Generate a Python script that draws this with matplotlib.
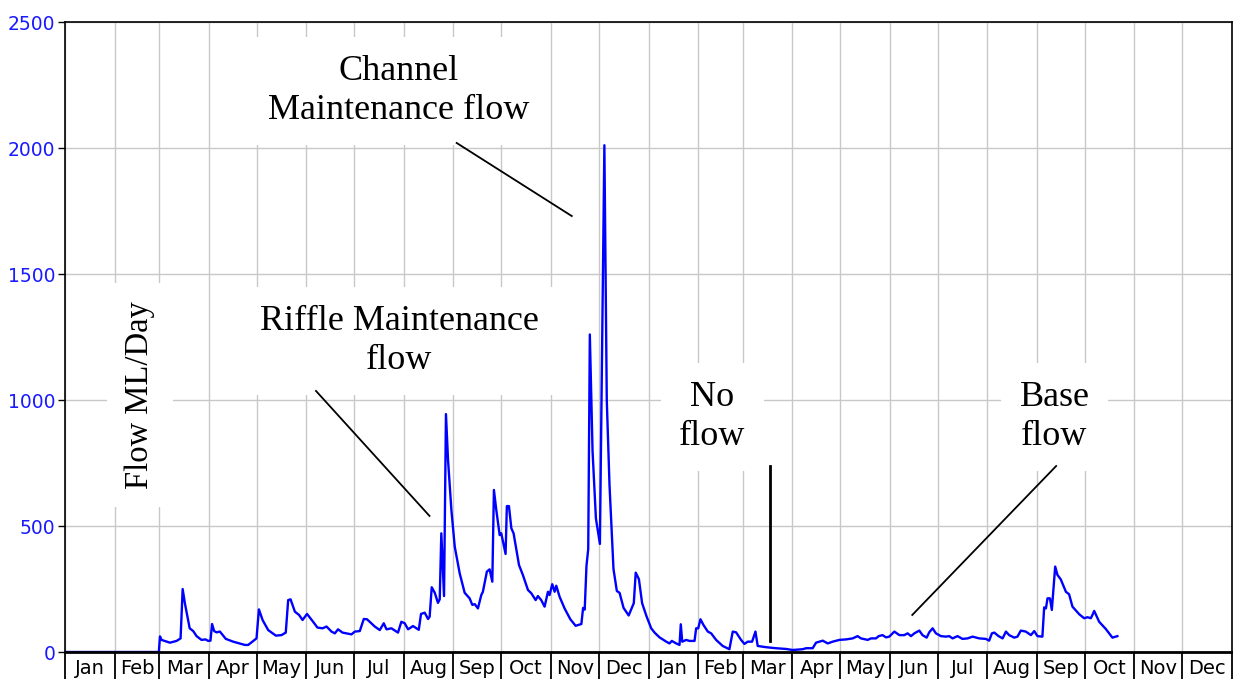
import matplotlib
matplotlib.use("Agg")
import matplotlib.pyplot as plt
import numpy as np

# flow record: day since 1 Jan of year 1 -> flow (ML/day)
days = [0, 58.7, 59.4, 60.4, 65.6, 69.8, 72.3, 73.6, 75, 78, 80.2, 82.3, 85.4, 87.9, 89.6, 91, 92,
        93.3, 94.8, 96.9, 100.6, 105.2, 112.5, 114.6, 119.8, 121.3, 123.6, 127.1, 131.9, 135.4,
        138.1, 139.6, 141.1, 143.8, 146.4, 148.6, 151.4, 155.2, 157.9, 161.1, 163.6, 166.7,
        168.8, 170.8, 173.6, 179.2, 181.3, 184.4, 186.9, 188.9, 193.8, 196.9, 199.4, 201.1,
        204.2, 208.3, 210.4, 212.5, 214.6, 217.7, 221.3, 222.7, 225, 227.1, 228.1, 229.4,
        231.3, 233.3, 234.4, 235.4, 237.1, 238.3, 239.6, 241.7, 243.8, 246.9, 250, 253.1,
        254.8, 256.3, 258.3, 260.4, 261.4, 263.9, 265.6, 267.3, 268.3, 269.8, 271.9, 272.9,
        275.6, 276.4, 277.7, 279.2, 280.6, 284, 286.4, 289.6, 291.7, 294.4, 295.8, 297.9,
        300, 302.1, 303.1, 304.8, 306.3, 307.3, 309.4, 312.5, 316.1, 319.4, 323, 324.1,
        325.1, 326.2, 327.3, 328.3, 330, 332.1, 334.6, 337.4, 338.9, 340.6, 343.1, 345.2,
        346.9, 349.4, 352.6, 355.8, 357, 359, 361, 363.8, 366.7, 368.8, 371.9, 376.1, 378.1,
        379.6, 382.3, 384.4, 385.2, 386.1, 388.6, 390.6, 393.8, 394.8, 396.1, 397.5, 399.4,
        402.1, 404.2, 407.3, 411.4, 415.6, 417.7, 419.8, 422.9, 425, 427.1, 429.8, 431.9,
        433.3, 438.6, 444.8, 451.1, 455.2, 461.4, 463.6, 467.7, 469.8, 474, 477.1, 480.2,
        484.4, 488.6, 492.7, 495.8, 497.9, 502.1, 504.2, 507.3, 509, 511.4, 513.6, 515.6,
        518.8, 521.9, 525, 527.1, 529.2, 531.3, 534.4, 536.4, 539, 540.6, 542.7, 544.8,
        547.9, 551, 553.1, 555.2, 558.3, 561.4, 564.6, 567.7, 571.9, 576, 578.1, 579.8,
        581.3, 584, 586.5, 588.6, 590.6, 593.8, 595.8, 597.9, 601, 604.2, 606.3, 608.3,
        611.4, 612.5, 613.6, 614.6, 616.1, 617.3, 619.4, 620.8, 622.9, 626.1, 628.1, 630.2,
        634.4, 637.5, 639.6, 641.7, 642.7, 643.8, 646.9, 651.1, 655.2, 658.3]
flow = [0, 0, 62, 48, 37, 44, 54, 250, 193, 94, 83, 63, 48, 50, 44, 45, 111,
        83, 78, 81, 52, 41, 28, 28, 54, 169, 127, 87, 65, 67,
        77, 206, 209, 160, 147, 127, 151, 120, 97, 94, 101, 81,
        74, 90, 77, 70, 81, 83, 131, 130, 101, 87, 114, 90,
        94, 77, 120, 114, 90, 103, 88, 151, 156, 131, 140, 257,
        235, 195, 209, 471, 222, 944, 762, 563, 418, 312, 235, 213,
        187, 190, 173, 226, 239, 319, 328, 279, 643, 563, 464, 471,
        389, 579, 579, 491, 471, 345, 306, 246, 233, 206, 222, 206,
        180, 239, 226, 269, 239, 263, 219, 173, 130, 104, 111, 175,
        168, 342, 409, 1260, 798, 530, 429, 2011, 1000, 664, 329, 242,
        235, 175, 145, 194, 315, 289, 194, 141, 94, 77, 58, 41, 34,
        44, 34, 28, 110, 41, 48, 44, 44, 94, 94, 130, 107,
        81, 74, 48, 24, 11, 81, 78, 48, 32, 41, 41, 81,
        24, 19, 15, 12, 8, 11, 15, 15, 37, 45, 34, 41,
        48, 50, 54, 63, 54, 48, 54, 54, 63, 67, 58, 61,
        81, 67, 67, 74, 63, 74, 85, 67, 57, 78, 94, 74,
        63, 61, 63, 54, 63, 52, 54, 61, 54, 52, 45, 74,
        77, 63, 54, 81, 67, 57, 61, 85, 81, 67, 83, 63,
        61, 177, 173, 213, 213, 167, 339, 306, 288, 239, 229, 180,
        150, 134, 138, 134, 147, 163, 120, 91, 57, 63]

month_names = ["Jan", "Feb", "Mar", "Apr", "May", "Jun",
               "Jul", "Aug", "Sep", "Oct", "Nov", "Dec"] * 2
month_len = [31, 28, 31, 30, 31, 30, 31, 31, 30, 31, 30, 31] * 2
y_ticks = [0, 500, 1000, 1500, 2000, 2500]

edges = np.concatenate([[0], np.cumsum(month_len)])
centres = (edges[:-1] + edges[1:]) / 2

fig = plt.figure(figsize=(12.33, 6.79), dpi=100)
ax = fig.add_axes([65 / 1233, 27 / 679, 1167 / 1233, 630 / 679])

ax.plot(days, flow, color="#0000ff", lw=1.7, zorder=2)

ax.set_xlim(0, edges[-1])
ax.set_ylim(0, 2500)
ax.set_axisbelow(True)

# y axis
ax.set_yticks(y_ticks)
ax.set_yticklabels([str(v) for v in y_ticks])
ax.tick_params(axis="y", which="major", direction="out", length=5, width=1,
               labelcolor="#1a1aff", labelsize=13.5, pad=2)
ax.grid(axis="y", color="#c8c8c8", lw=1)

# x axis: month separators as long minor ticks, labels centred in each month
ax.set_xticks(edges, minor=True)
ax.set_xticks(centres)
ax.set_xticklabels(month_names, fontsize=14)
ax.tick_params(axis="x", which="major", length=0, pad=5)
ax.tick_params(axis="x", which="minor", direction="out", length=24, width=1.3)
ax.grid(axis="x", which="minor", color="#c8c8c8", lw=1)

for s in ax.spines.values():
    s.set_color("black")
    s.set_linewidth(1.2)
ax.spines["bottom"].set_linewidth(2)

serif = "Liberation Serif"
box = dict(facecolor="white", edgecolor="none", pad=13)

ax.text(209, 2226, "Channel\nMaintenance flow", family=serif, fontsize=26,
        ha="center", va="center", linespacing=1.22, bbox=box, zorder=3)
ax.plot([245, 317], [2020, 1730], color="black", lw=1.3, zorder=4)

ax.text(209, 1234, "Riffle Maintenance\nflow", family=serif, fontsize=26,
        ha="center", va="center", linespacing=1.22, bbox=box, zorder=3)
ax.plot([157, 228], [1036, 540], color="black", lw=1.3, zorder=4)

ax.text(47, 1020, "Flow ML/Day", family=serif, fontsize=23.5, rotation=90,
        ha="center", va="center", bbox=box, zorder=3)

ax.text(405, 933, "No\nflow", family=serif, fontsize=26,
        ha="center", va="center", linespacing=1.22, bbox=box, zorder=3)
ax.plot([441.3, 441.3], [738, 44], color="black", lw=2, zorder=4)

ax.text(619, 933, "Base\nflow", family=serif, fontsize=26,
        ha="center", va="center", linespacing=1.22, bbox=box, zorder=3)
ax.plot([620, 530], [738, 147], color="black", lw=1.3, zorder=4)

fig.savefig("out.png", dpi=100)
